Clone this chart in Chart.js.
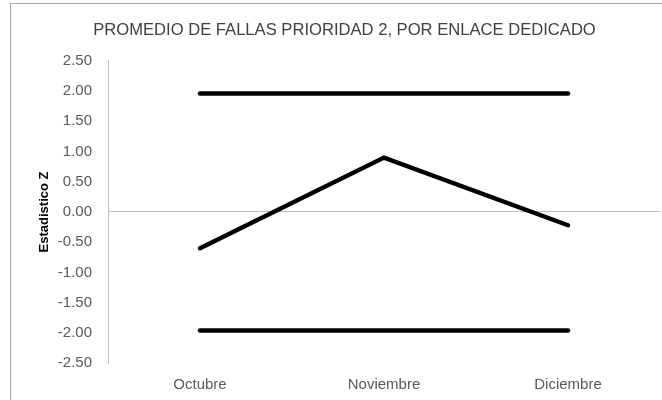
<!DOCTYPE html>
<html>
<head>
<meta charset="utf-8">
<script src="https://cdn.jsdelivr.net/npm/chart.js@4.4.1/dist/chart.umd.min.js"></script>
<style>
  html, body { margin: 0; padding: 0; background: #fff; overflow: hidden; }
  #wrap { position: relative; width: 662px; height: 400px; }
  #frame { position: absolute; left: 10px; top: 3px; width: 700px; height: 420px; border: 1px solid #a6a6a6; box-sizing: border-box; }
  canvas { position: absolute; left: 0; top: 0; }
</style>
</head>
<body>
<div id="wrap">
  <div id="frame"></div>
  <canvas id="chart" width="662" height="400"></canvas>
</div>
<script>
const categories = ['Octubre', 'Noviembre', 'Diciembre'];
const zValues = [-0.60, 0.90, -0.22];
const upperLimit = [1.96, 1.96, 1.96];
const lowerLimit = [-1.96, -1.96, -1.96];
const yMin = -2.5;
const yMax = 2.5;
const yStep = 0.5;

const textColor = '#595959';
const axisColor = '#bfbfbf';
const fontFamily = "'Liberation Sans', Arial, sans-serif";

function lineSet(label, data) {
  return {
    label: label,
    data: data,
    borderColor: '#000000',
    borderWidth: 4.5,
    borderCapStyle: 'round',
    borderJoinStyle: 'miter',
    pointRadius: 0,
    fill: false,
    tension: 0
  };
}

const ctx = document.getElementById('chart').getContext('2d');
new Chart(ctx, {
  type: 'line',
  data: {
    labels: categories,
    datasets: [
      lineSet('Límite superior', upperLimit),
      lineSet('Estadistico Z', zValues),
      lineSet('Límite inferior', lowerLimit)
    ]
  },
  options: {
    responsive: false,
    animation: false,
    // left padding keeps the title centred on the (wider) frame
    layout: { padding: { left: 29, right: 2, top: 0, bottom: 0 } },
    plugins: {
      legend: { display: false },
      tooltip: { enabled: false },
      title: {
        display: true,
        text: 'PROMEDIO DE FALLAS PRIORIDAD 2, POR ENLACE DEDICADO',
        color: '#404040',
        font: { family: fontFamily, size: 16.6, weight: 'normal' },
        padding: { top: 20, bottom: 21 }
      }
    },
    scales: {
      x: {
        offset: true,
        grid: { display: false, drawTicks: false },
        border: { display: false },
        ticks: { color: textColor, font: { family: fontFamily, size: 15 }, padding: 13 },
        afterFit: (scale) => { scale.height = 37; }
      },
      y: {
        min: yMin,
        max: yMax,
        grid: {
          drawTicks: false,
          color: (c) => (c.tick && c.tick.value === 0 ? axisColor : 'transparent'),
          lineWidth: 1
        },
        border: { display: true, color: axisColor, width: 1 },
        ticks: {
          stepSize: yStep,
          color: textColor,
          font: { family: fontFamily, size: 15 },
          padding: 16,
          callback: (v) => Number(v).toFixed(2)
        },
        title: {
          display: true,
          text: 'Estadistico Z',
          color: '#000000',
          font: { family: fontFamily, size: 13, weight: 'bold' },
          padding: { top: 8, bottom: 0 }
        },
        afterFit: (scale) => { scale.width = 79; }
      }
    }
  }
});
</script>
</body>
</html>
